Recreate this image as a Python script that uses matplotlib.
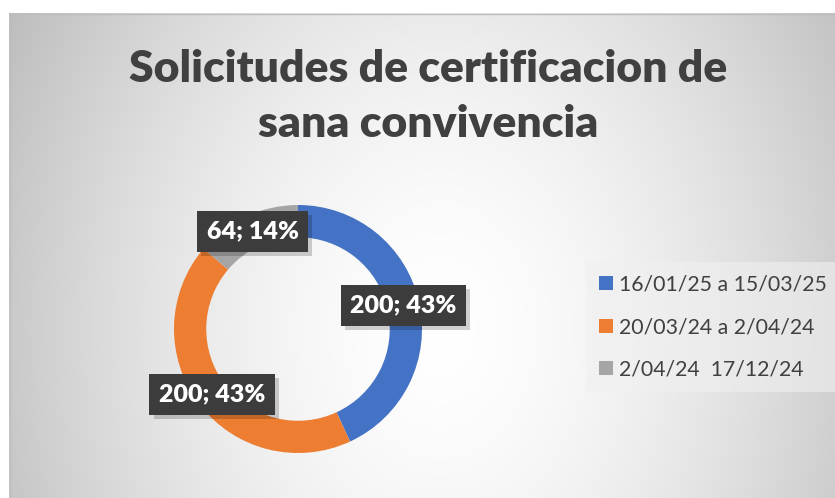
import numpy as np
import matplotlib
matplotlib.use("Agg")
import matplotlib.pyplot as plt
from matplotlib import patheffects as pe

categories = ["16/01/25 a 15/03/25", "20/03/24 a 2/04/24", "2/04/24  17/12/24"]
values = [200, 200, 64]
colors = ["#4472C4", "#ED7D31", "#A5A5A5"]
title = "Solicitudes de certificacion de\nsana convivencia"

plt.rcParams['font.family'] = ['Lato', 'DejaVu Sans']
TXT = '#404040'

W, H = 835, 498
fig = plt.figure(figsize=(W / 100, H / 100), dpi=100)

# background with radial gradient
bg = fig.add_axes([0, 0, 1, 1])
bg.axis('off')
yy, xx = np.mgrid[0:H, 0:W]
d = np.sqrt(((xx - 440) / 470.0) ** 2 + ((yy - 330) / 620.0) ** 2)
v = np.clip(1 - 0.24 * d ** 1.6, 0, 1)
img = np.dstack([v, v, v])
img[:13, :] = 1
img[:, :9] = 1
bg.imshow(img, extent=(0, W, H, 0), interpolation='bilinear', aspect='auto')
bg.plot([9.5, 9.5], [13, H], color='#bdbdbd', lw=1)
bg.plot([9.5, W], [13.5, 13.5], color='#bdbdbd', lw=1)
bg.set_xlim(0, W)
bg.set_ylim(H, 0)

fig.text(428 / W, 1 - 49 / H, title, ha='center', va='top', fontsize=32,
         fontweight='heavy', color=TXT, linespacing=1.45)

# donut
cx, cy, R = 298, 329, 124
ax = fig.add_axes([(cx - R) / W, (H - cy - R) / H, 2 * R / W, 2 * R / H])
total = sum(values)
wedges, texts, autotexts = ax.pie(
    values, colors=colors, startangle=90, counterclock=False, radius=1,
    wedgeprops=dict(width=0.26, edgecolor='none'),
    autopct=lambda p: f"{p * total / 100:.0f}; {p:.0f}%", pctdistance=0.87)
ax.set_xlim(-1, 1)
ax.set_ylim(-1, 1)
for t in autotexts:
    t.set_color('white')
    t.set_fontsize(18)
    t.set_fontweight('heavy')
    t.set_bbox(dict(boxstyle='square,pad=0.38', facecolor='#3c3c3c',
                    edgecolor='none', linewidth=0))
    t.get_bbox_patch().set_path_effects([
        pe.SimplePatchShadow(offset=(3, -3), shadow_rgbFace='k', alpha=0.18),
        pe.Normal()])
    t.set_zorder(5)

leg = fig.legend(wedges, categories, loc='upper left',
                 bbox_to_anchor=(586 / W, 1 - 262 / H), borderaxespad=0,
                 fontsize=15.3, frameon=True, fancybox=False,
                 handlelength=0.65, handleheight=0.65, handletextpad=0.3,
                 labelspacing=1.05, borderpad=0.6)
leg.get_frame().set_facecolor('#f0f0f0')
leg.get_frame().set_alpha(0.6)
leg.get_frame().set_edgecolor('none')
for t in leg.get_texts():
    t.set_color(TXT)

fig.savefig('out.png', dpi=100)
